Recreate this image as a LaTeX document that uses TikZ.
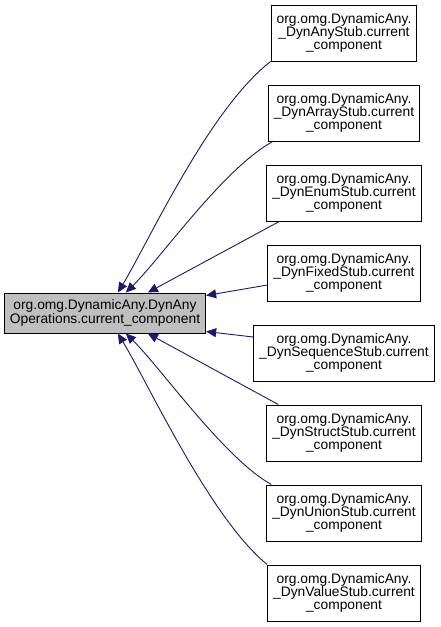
\documentclass[tikz,border=0pt]{standalone}
\usepackage{fontspec}
\setmainfont{Liberation Sans}
\usetikzlibrary{arrows.meta}
\definecolor{edgeblue}{HTML}{191970}
\definecolor{boxgray}{HTML}{BFBFBF}
\tikzset{
  base/.style={draw=black, line width=1pt, align=center, inner xsep=5.5pt, inner ysep=0pt,
    font=\fontsize{13.8pt}{13.3pt}\selectfont},
  mainbox/.style={base, fill=boxgray, minimum height=40pt},
  stubbox/.style={base, fill=white, minimum height=56pt},
  arr/.style={draw=edgeblue, line width=0.9pt, -{Triangle[length=10pt,width=9pt]}}
}
\begin{document}
\begin{tikzpicture}[x=1pt,y=-1pt]
\useasboundingbox (0,0) rectangle (440,627);
\node[mainbox] (L) at (105,313) {org.omg.DynamicAny.DynAny\\Operations.current\_component};
\node[stubbox] (n1) at (344,33)  {org.omg.DynamicAny.\\\_DynAnyStub.current\\\_component};
\node[stubbox] (n2) at (344,113) {org.omg.DynamicAny.\\\_DynArrayStub.current\\\_component};
\node[stubbox] (n3) at (344,193) {org.omg.DynamicAny.\\\_DynEnumStub.current\\\_component};
\node[stubbox] (n4) at (344,273) {org.omg.DynamicAny.\\\_DynFixedStub.current\\\_component};
\node[stubbox] (n5) at (344,353) {org.omg.DynamicAny.\\\_DynSequenceStub.current\\\_component};
\node[stubbox] (n6) at (344,433) {org.omg.DynamicAny.\\\_DynStructStub.current\\\_component};
\node[stubbox] (n7) at (344,513) {org.omg.DynamicAny.\\\_DynUnionStub.current\\\_component};
\node[stubbox] (n8) at (344,593) {org.omg.DynamicAny.\\\_DynValueStub.current\\\_component};
% end points on the main node
\coordinate (t1) at ([xshift=114pt]L.north west);
\coordinate (t2) at ([xshift=122pt]L.north west);
\coordinate (t3) at ([xshift=144pt]L.north west);
\coordinate (t4) at ([yshift=-3pt]L.north east);
\coordinate (t5) at ([yshift=2pt]L.south east);
\coordinate (t6) at ([xshift=144pt]L.south west);
\coordinate (t7) at ([xshift=122pt]L.south west);
\coordinate (t8) at ([xshift=114pt]L.south west);
% start points on the stub nodes
\coordinate (s2) at ([xshift=5pt]n2.south west);
\coordinate (s3) at ([xshift=13pt]n3.south west);
\coordinate (s4) at ([yshift=-12pt]n4.west);
\coordinate (s5) at ([yshift=16pt]n5.west);
\coordinate (s6) at ([xshift=12pt]n6.north west);
\coordinate (s7) at ([xshift=5pt]n7.north west);
\draw[arr] (n1.south west) .. controls (209,109) and (148,243) .. (t1);
\draw[arr] (s2) .. controls (224,168) and (161,258) .. (t2);
\draw[arr] (s3) -- (t3);
\draw[arr] (s4) -- (t4);
\draw[arr] (s5) -- (t5);
\draw[arr] (s6) -- (t6);
\draw[arr] (s7) .. controls (224,458) and (161,368) .. (t7);
\draw[arr] (n8.north west) .. controls (210,518) and (148,383) .. (t8);
\end{tikzpicture}
\end{document}
